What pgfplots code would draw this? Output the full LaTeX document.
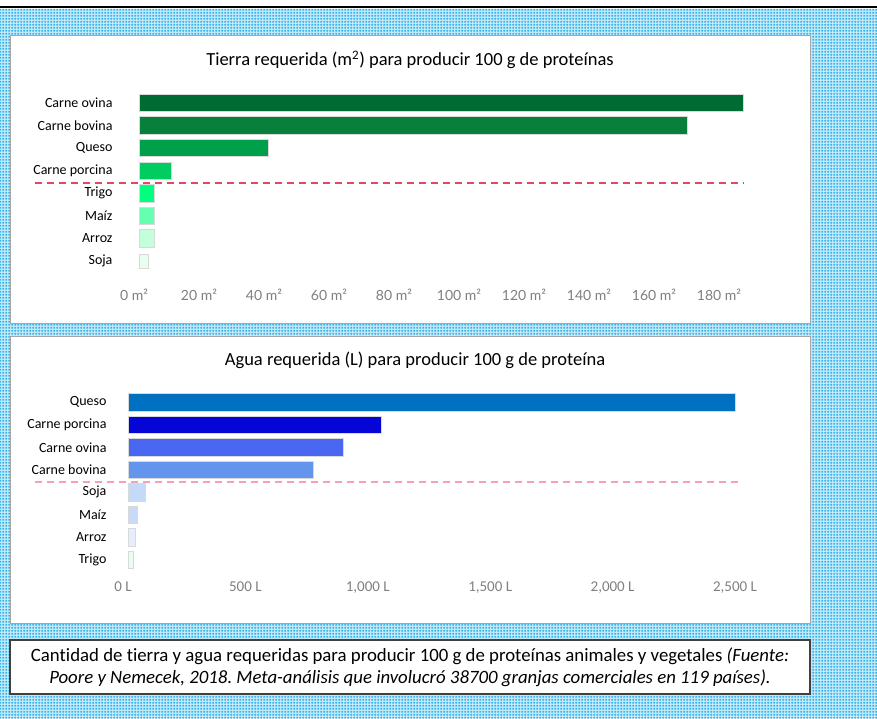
\documentclass[border=0pt]{standalone}
\usepackage{fontspec}
\setmainfont{Carlito}[Ligatures=NoCommon]
\newfontfamily\lato{Lato}
\usepackage{pgfplots}
\pgfplotsset{compat=1.18}
\usetikzlibrary{patterns.meta}
\frenchspacing

% colours
\definecolor{bgdot}{HTML}{33B2EA}
\definecolor{bglight}{HTML}{CBECFA}
\definecolor{panelgray}{HTML}{A6A6A6}
\definecolor{tickgray}{HTML}{808080}
\definecolor{gA}{HTML}{006B33}
\definecolor{gB}{HTML}{06803A}
\definecolor{gC}{HTML}{00A04A}
\definecolor{gD}{HTML}{00CC60}
\definecolor{gE}{HTML}{00FF80}
\definecolor{gF}{HTML}{66FFB2}
\definecolor{gG}{HTML}{C2FFDA}
\definecolor{gH}{HTML}{E6FFF0}
\definecolor{bA}{HTML}{0070C0}
\definecolor{bB}{HTML}{0505D8}
\definecolor{bC}{HTML}{4A67F2}
\definecolor{bD}{HTML}{6495ED}
\definecolor{bE}{HTML}{C5D9F8}
\definecolor{bF}{HTML}{C9DAF8}
\definecolor{bG}{HTML}{E6EEFC}
\definecolor{bH}{HTML}{E6FFF0}
\definecolor{dashred}{HTML}{E64664}
\definecolor{dashpink}{HTML}{F4A0B9}

\pgfdeclarepattern{
  name=bgdots, type=uncolored,
  bottom left={\pgfpoint{0pt}{0pt}}, top right={\pgfpoint{3.2pt}{3.2pt}},
  tile size={\pgfpoint{3.2pt}{3.2pt}},
  code={\pgfpathrectangle{\pgfpoint{0.6pt}{0.6pt}}{\pgfpoint{2pt}{2pt}}\pgfusepath{fill}}
}

\pgfplotsset{
  hbars/.style={
    scale only axis, anchor=south west, clip=false,
    xbar, bar width=17.5pt, bar shift=0pt,
    ymin=-0.5, ymax=7.5, ytick={0,...,7},
    axis line style={draw=none}, major tick length=0pt,
    yticklabel style={font=\fontsize{14}{16}\selectfont, anchor=east},
    every axis plot/.append style={draw=white!85!black, line width=0.6pt},
  }
}

\begin{document}
\begin{tikzpicture}[x=1pt,y=1pt]
\useasboundingbox (0,0) rectangle (877,718);
\fill[white] (0,0) rectangle (877,718);
\fill[bglight] (0,0) rectangle (877,709);
\fill[pattern=bgdots, pattern color=bgdot] (0,0) rectangle (877,709);
\draw[black, line width=2pt] (0,711) -- (877,711);

% panels
\filldraw[fill=white, draw=panelgray, line width=0.8pt] (10,395) rectangle (810,683);
\filldraw[fill=white, draw=panelgray, line width=0.8pt] (10,95) rectangle (810,382);
\filldraw[fill=white, draw=black!75, line width=1.4pt] (10,24) rectangle (810,78);

% titles
\node[font=\fontsize{18.5}{22}\selectfont] at (410,658) {Tierra requerida (m\textsuperscript{2}) para producir 100 g de proteínas};
\node[font=\fontsize{18.5}{22}\selectfont] at (415,358) {Agua requerida (L) para producir 100 g de proteína};

% land use
\begin{axis}[hbars,
  at={(139pt,445.7pt)}, width=617.5pt, height=180.8pt,
  xmin=0, xmax=190,
  xtick={0,20,...,180},
  xticklabels={{0 m²},{20 m²},{40 m²},{60 m²},{80 m²},{100 m²},{120 m²},{140 m²},{160 m²},{180 m²}},
  xticklabel style={font=\lato\fontsize{14}{16}\selectfont, text=tickgray, yshift=-13pt, xshift=-5pt},
  yticklabel style={xshift=-23pt},
  yticklabels={Soja,Arroz,Maíz,Trigo,Carne porcina,Queso,Carne bovina,Carne ovina},
]
\addplot[fill=gA] coordinates {(185.8,7)};
\addplot[fill=gB] coordinates {(168.6,6)};
\addplot[fill=gC] coordinates {(39.7,5)};
\addplot[fill=gD] coordinates {(9.8,4)};
\addplot[fill=gE] coordinates {(4.6,3)};
\addplot[fill=gF] coordinates {(4.6,2)};
\addplot[fill=gG] coordinates {(4.6,1)};
\addplot[fill=gH, bar width=14pt] coordinates {(2.8,0)};
\draw[dashred, line width=1.4pt, dash pattern=on 7pt off 5pt] (axis cs:-32,3.45) -- (axis cs:186,3.45);
\end{axis}

% water use
\begin{axis}[hbars,
  at={(128pt,147pt)}, width=624.2pt, height=180pt,
  xmin=0, xmax=2550,
  xtick={0,500,...,2500},
  xticklabels={{0 L},{500 L},{1,000 L},{1,500 L},{2,000 L},{2,500 L}},
  xticklabel style={font=\fontsize{15}{16}\selectfont, text=tickgray, yshift=-7pt, xshift=-5pt},
  yticklabel style={xshift=-18pt},
  yticklabels={Trigo,Arroz,Maíz,Soja,Carne bovina,Carne ovina,Carne porcina,Queso},
]
\addplot[fill=bA] coordinates {(2480,7)};
\addplot[fill=bB] coordinates {(1033,6)};
\addplot[fill=bC] coordinates {(878,5)};
\addplot[fill=bD] coordinates {(756,4)};
\addplot[fill=bE] coordinates {(69,3)};
\addplot[fill=bF] coordinates {(37,2)};
\addplot[fill=bG] coordinates {(31,1)};
\addplot[fill=bH] coordinates {(23,0)};
\draw[dashpink, line width=1.4pt, dash pattern=on 7pt off 5pt] (axis cs:-380,3.45) -- (axis cs:2500,3.45);
\end{axis}

% caption
\node[font=\fontsize{18.8}{22}\selectfont, align=center] at (410,51)
  {Cantidad de tierra y agua requeridas para producir 100 g de proteínas animales y vegetales \textit{(Fuente:}\\
   \textit{Poore y Nemecek, 2018. Meta-análisis que involucró 38700 granjas comerciales en 119 países).}};
\end{tikzpicture}
\end{document}
